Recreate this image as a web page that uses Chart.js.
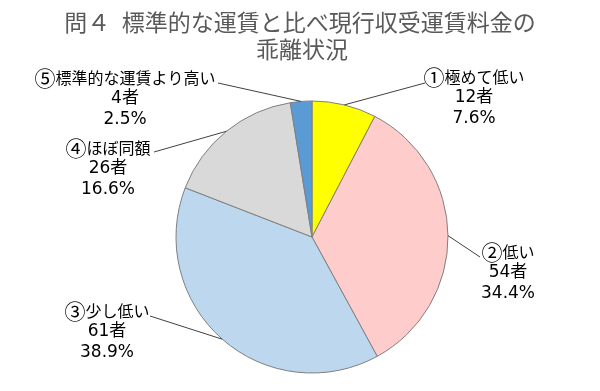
<!DOCTYPE html>
<html>
<head>
<meta charset="utf-8">
<script src="https://cdn.jsdelivr.net/npm/chart.js@4"></script>
<style>
  html, body { margin: 0; padding: 0; background: #fff; }
  #wrap { width: 600px; height: 391px; }
</style>
</head>
<body>
<div id="wrap"><canvas id="pie"></canvas></div>
<script>
// 問４ 乖離状況（回答者数）
const categorias = ["①極めて低い", "②低い", "③少し低い", "④ほぼ同額", "⑤標準的な運賃より高い"];
const cantidades = [12, 54, 61, 26, 4];
const porcentajes = [7.6, 34.4, 38.9, 16.6, 2.5];
const colores = ["#FFFF00", "#FFCCCC", "#BDD7EE", "#D9D9D9", "#5B9BD5"];
const titulo = ["問４\u2002標準的な運賃と比べ現行収受運賃料金の", "乖離状況"];

const FONT_CJK = "'Noto Sans CJK JP', sans-serif";
const FONT_NUM = "'DejaVu Sans', 'Noto Sans CJK JP', sans-serif";

// posición del bloque de etiqueta (centro x, y de la primera línea) y punto final de la guía
const etiquetas = [
  { x: 474, y: 77, ax: 425, ay: 83 },
  { x: 508, y: 252, ax: 480, ay: 257 },
  { x: 107, y: 311, ax: 150, ay: 316 },
  { x: 108, y: 148, ax: 154, ay: 152 },
  { x: 125, y: 78, ax: 218, ay: 83 }
];

// el número en círculo se dibuja algo mayor, como en el original
function dibujarCategoria(ctx, texto, cx, cy) {
  const marca = texto.charAt(0);
  const resto = texto.slice(1);
  ctx.font = "21px " + FONT_CJK;
  const w1 = ctx.measureText(marca).width;
  ctx.font = "16px " + FONT_CJK;
  const w2 = ctx.measureText(resto).width;
  let x = cx - (w1 + w2) / 2;
  ctx.textAlign = "left";
  ctx.font = "21px " + FONT_CJK;
  ctx.fillText(marca, x, cy);
  ctx.font = "16px " + FONT_CJK;
  ctx.fillText(resto, x + w1, cy);
}

const pluginEtiquetas = {
  id: "etiquetas",
  afterDraw(chart) {
    const ctx = chart.ctx;
    ctx.save();
    // título
    ctx.fillStyle = "#595959";
    ctx.font = "23px " + FONT_CJK;
    ctx.textAlign = "center";
    ctx.textBaseline = "middle";
    ctx.fillText(titulo[0], 300, 22);
    ctx.fillText(titulo[1], 302, 49);

    const meta = chart.getDatasetMeta(0);
    meta.data.forEach((arc, i) => {
      const e = etiquetas[i];
      const mid = (arc.startAngle + arc.endAngle) / 2;
      const px = arc.x + Math.cos(mid) * arc.outerRadius;
      const py = arc.y + Math.sin(mid) * arc.outerRadius;
      ctx.strokeStyle = "#404040";
      ctx.lineWidth = 1;
      ctx.beginPath();
      ctx.moveTo(px, py);
      ctx.lineTo(e.ax, e.ay);
      ctx.stroke();

      ctx.fillStyle = "#000";
      ctx.textBaseline = "middle";
      dibujarCategoria(ctx, categorias[i], e.x, e.y);
      ctx.textAlign = "center";
      ctx.font = "17px " + FONT_NUM;
      ctx.fillText(cantidades[i] + "者", e.x, e.y + 21);
      ctx.fillText(porcentajes[i].toFixed(1) + "%", e.x, e.y + 42);
    });
    ctx.restore();
  }
};

new Chart(document.getElementById("pie").getContext("2d"), {
  type: "pie",
  data: {
    labels: categorias,
    datasets: [{
      data: cantidades,
      backgroundColor: colores,
      borderColor: "#7f7f7f",
      borderWidth: 1
    }]
  },
  options: {
    responsive: true,
    maintainAspectRatio: false,
    animation: false,
    radius: 136,
    layout: { padding: { top: 100, bottom: 17, left: 24, right: 0 } },
    plugins: {
      legend: { display: false },
      tooltip: { enabled: false },
      title: { display: false }
    }
  },
  plugins: [pluginEtiquetas]
});
</script>
</body>
</html>
